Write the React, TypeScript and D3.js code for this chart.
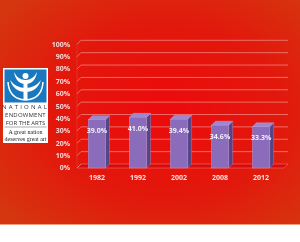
import React from "react";
import * as d3 from "d3";

const years = ["1982", "1992", "2002", "2008", "2012"];
const values = [39.0, 41.0, 39.4, 34.6, 33.3];
const ticks = [0, 10, 20, 30, 40, 50, 60, 70, 80, 90, 100];

export default function App() {
  const W = 300, H = 242;
  const x0 = 77, x1 = 284;
  const dx = 4, dy = 4;
  const y = d3.scaleLinear().domain([0, 100]).range([168, 44.3]);
  const x = d3.scaleBand().domain(years).range([76, 282]).paddingInner(0.58).paddingOuter(0.3);
  const bw = x.bandwidth();
  const font = "'Open Sans', 'DejaVu Sans', sans-serif";
  return (
    <svg width={W} height={H} style={{ position: "fixed", left: 0, top: 0 }}>
      <defs>
        <radialGradient id="bg" cx="0.55" cy="0.5" r="0.7">
          <stop offset="0" stopColor="#ec0a0b" />
          <stop offset="0.55" stopColor="#e2180c" />
          <stop offset="1" stopColor="#d5360f" />
        </radialGradient>
      </defs>
      <rect x={0} y={0} width={W} height={224} fill="url(#bg)" />
      <rect x={0} y={224} width={W} height={1} fill="#f0a080" />
      <rect x={0} y={225} width={W} height={17} fill="#ffffff" />
      {/* floor */}
      <polygon
        points={`${x0},${y(0)} ${x0 + dx},${y(0) - dy} ${x1 + dx},${y(0) - dy} ${x1},${y(0)}`}
        fill="#d80a0a"
        stroke="#f07070"
        strokeWidth={0.6}
      />
      {/* grid */}
      {ticks.map((t) => (
        <g key={t}>
          <line x1={x0} y1={y(t)} x2={x0 + dx} y2={y(t) - dy} stroke="#f39090" strokeWidth={0.7} />
          {t > 0 && (
            <line x1={x0 + dx} y1={y(t) - dy} x2={x1 + dx} y2={y(t) - dy} stroke="#f39090" strokeWidth={0.7} />
          )}
          <text
            x={70}
            y={y(t)}
            dy="0.35em"
            textAnchor="end"
            fontFamily={font}
            fontWeight="bold"
            fontSize={7}
            fill="#f8d8d8"
          >
            {t}%
          </text>
        </g>
      ))}
      <line x1={x0} y1={y(0)} x2={x0} y2={y(100)} stroke="#f07070" strokeWidth={0.5} opacity={0.5} />
      {/* bars */}
      {years.map((yr, i) => {
        const bx = x(yr)!;
        const top = y(values[i]);
        const bot = y(0);
        return (
          <g key={yr}>
            <polygon
              points={`${bx + bw},${top} ${bx + bw + dx},${top - dy} ${bx + bw + dx},${bot - dy} ${bx + bw},${bot}`}
              fill="#574487"
              stroke="#a898d8"
              strokeWidth={0.4}
            />
            <polygon
              points={`${bx},${top} ${bx + dx},${top - dy} ${bx + bw + dx},${top - dy} ${bx + bw},${top}`}
              fill="#9d88cf"
              stroke="#b8a8e8"
              strokeWidth={0.4}
            />
            <rect x={bx} y={top} width={bw} height={bot - top} fill="#8a6cbb" stroke="#b8a8e8" strokeWidth={0.4} />
            <text
              x={bx + bw / 2}
              y={top + 11}
              dy="0.35em"
              textAnchor="middle"
              fontFamily={font}
              fontWeight="bold"
              fontSize={7}
              fill="#f4eefc"
            >
              {values[i].toFixed(1)}%
            </text>
            <text
              x={bx + bw / 2}
              y={178}
              dy="0.35em"
              textAnchor="middle"
              fontFamily={font}
              fontWeight="bold"
              fontSize={7}
              fill="#f8e0e0"
            >
              {yr}
            </text>
          </g>
        );
      })}
      {/* logo */}
      <g>
        <rect x={3} y={68} width={45} height={75} fill="#ffffff" />
        <rect x={4.5} y={69.5} width={42} height={33} fill="#1a78bf" />
        <circle cx={25.5} cy={76} r={3} fill="#ffffff" />
        <path d="M10,80 Q14,92 25.5,92 Q37,92 41,80 Q35,88 25.5,88 Q16,88 10,80 Z" fill="#ffffff" />
        <path d="M14,72 Q16,84 25.5,84 Q35,84 37,72 Q33,80 25.5,80 Q18,80 14,72 Z" fill="#ffffff" />
        <rect x={23.5} y={80} width={4} height={20} fill="#ffffff" />
        <path d="M8,82 Q9,99 25.5,100 Q42,99 43,82" fill="none" stroke="#ffffff" strokeWidth={1.5} />
        <text x={25.5} y={109} textAnchor="middle" fontFamily={font} fontSize={6} letterSpacing={2.2} fill="#333">
          NATIONAL
        </text>
        <text x={25.5} y={117} textAnchor="middle" fontFamily={font} fontSize={6} letterSpacing={0.2} fill="#333">
          ENDOWMENT
        </text>
        <text x={25.5} y={125} textAnchor="middle" fontFamily={font} fontSize={6} letterSpacing={0} fill="#333">
          FOR THE ARTS
        </text>
        <line x1={4.5} y1={127} x2={46.5} y2={127} stroke="#555" strokeWidth={0.5} />
        <text x={25.5} y={134} textAnchor="middle" fontFamily="'Liberation Serif', serif" fontSize={6} fill="#222">
          A great nation
        </text>
        <text x={25.5} y={140.5} textAnchor="middle" fontFamily="'Liberation Serif', serif" fontSize={6} fill="#222">
          deserves great art
        </text>
      </g>
    </svg>
  );
}
